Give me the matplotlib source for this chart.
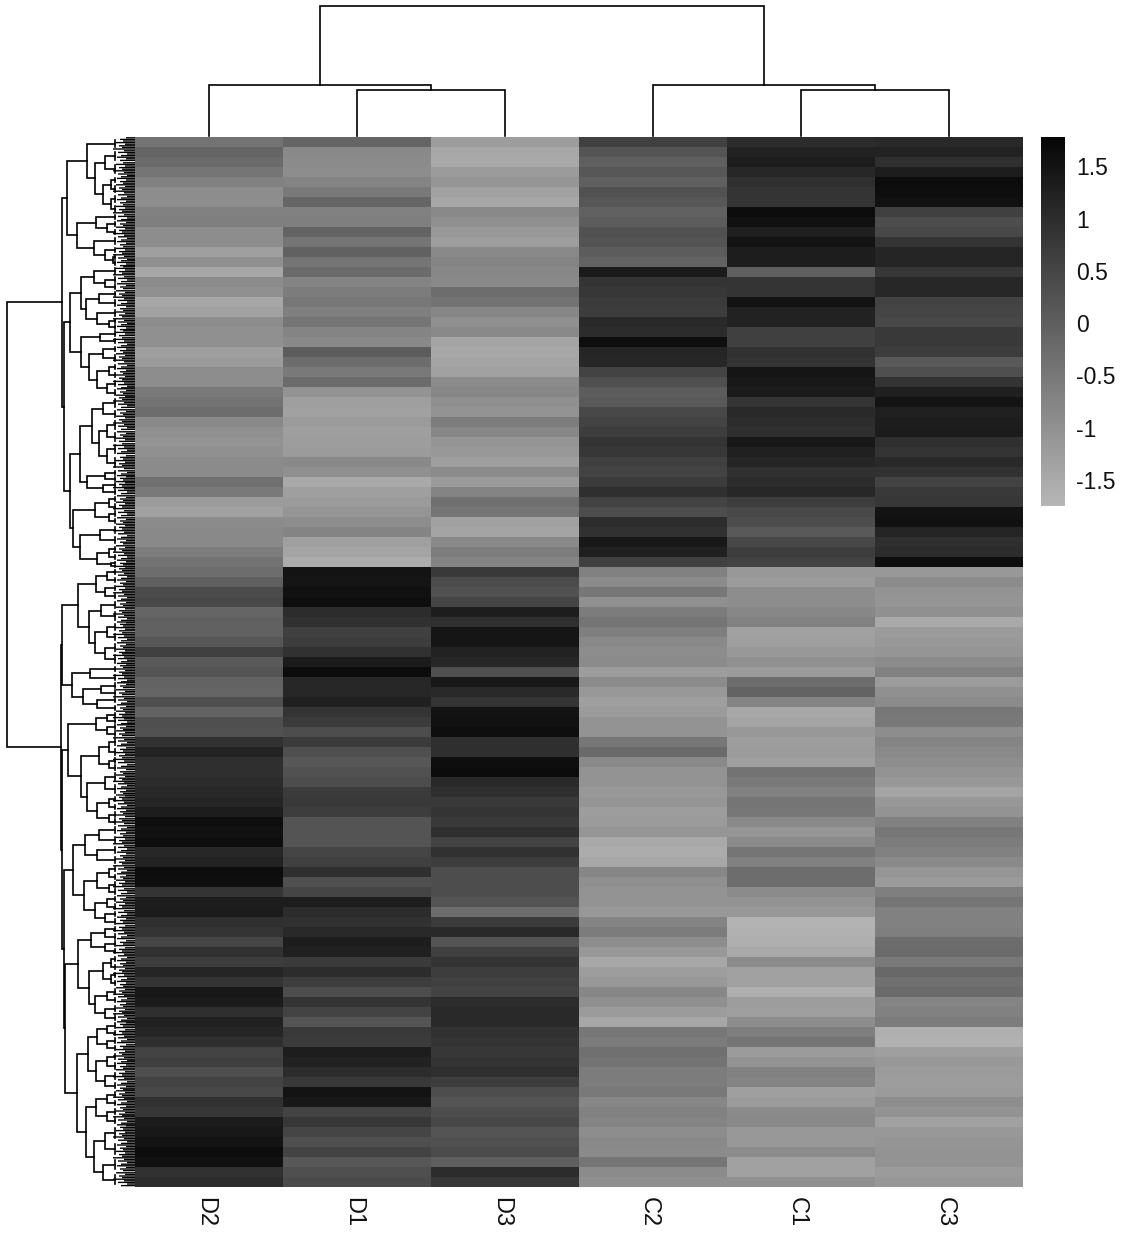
"""Clustered gene heatmap, D/C samples, gray palette, with row and column dendrograms."""
import numpy as np
import matplotlib
matplotlib.use("Agg")
import matplotlib.pyplot as plt
from matplotlib.colors import LinearSegmentedColormap

plt.rcParams["font.family"] = ["Liberation Sans", "DejaVu Sans"]

SAMPLES = ["D2", "D1", "D3", "C2", "C1", "C3"]
D2 = [-0.4, -0.15, -0.25, -0.45, -0.7, -0.95, -0.95, -0.7, -0.65, -0.95, -0.95, -1.3, -1.0, -1.45, -0.9, -1.0, -1.45, -1.35, -0.95, -1.0, -1.0, -1.3, -1.2, -0.95, -0.95, -0.55,
      -0.4, -0.3, -0.85, -1.0, -1.05, -1.0, -0.9, -0.9, -0.35, -0.55, -1.2, -1.35, -0.9, -0.85, -0.85, -0.6, -0.4, -0.3, 0.0, 0.4, 0.45, -0.15, -0.05, -0.05, 0.15, 0.6,
      0.1, 0.2, -0.1, -0.15, 0.3, -0.1, 0.3, 0.25, 0.9, 1.2, 0.95, 0.95, 1.0, 1.05, 1.15, 1.3, 1.6, 1.55, 1.6, 1.1, 1.2, 1.65, 1.6, 0.85, 1.3, 1.35,
      0.95, 0.85, 0.5, 0.9, 0.65, 1.15, 0.85, 1.4, 1.35, 0.95, 1.25, 1.15, 0.95, 0.55, 0.6, 0.3, 0.55, 0.45, 0.9, 0.8, 1.35, 1.4, 1.5, 1.65, 1.55, 0.9, 1.0]
D1 = [-0.15, -0.85, -0.9, -0.95, -0.75, -0.55, -0.15, -0.7, -0.65, -0.1, -0.45, -0.05, -0.45, -0.25, -0.75, -0.6, -0.5, -0.65, -0.45, -0.75, -0.85, 0.05, -0.3, -0.55, -0.25, -1.05,
      -1.3, -1.35, -1.2, -1.3, -1.25, -1.2, -0.85, -1.0, -1.5, -1.3, -1.2, -1.1, -0.95, -0.75, -1.3, -1.4, -1.55, 1.5, 1.45, 1.55, 1.6, 1.0, 0.9, 0.6, 0.65, 0.9,
      1.35, 1.65, 1.1, 1.1, 1.25, 0.85, 0.7, 0.35, 0.7, 0.3, 0.15, 0.25, 0.35, 0.7, 0.75, 0.65, 0.2, 0.2, 0.2, 0.5, 0.6, 0.95, 0.3, 0.5, 1.3, 1.0,
      0.9, 1.05, 1.3, 1.25, 0.7, 1.0, 0.65, 0.35, 0.85, 0.55, 0.2, 0.75, 0.7, 1.3, 1.2, 1.0, 0.75, 1.5, 1.4, 0.55, 0.8, 0.5, 0.3, 0.55, 0.15, 0.3, 0.4]
D3 = [-1.25, -1.45, -1.5, -1.2, -1.1, -1.35, -1.45, -0.85, -1.0, -1.15, -1.25, -0.85, -0.75, -0.8, -0.85, -0.3, -0.4, -0.8, -1.0, -0.85, -1.4, -1.45, -1.4, -1.35, -0.9, -0.8,
      -1.0, -1.05, -0.6, -0.8, -1.1, -1.15, -1.3, -0.9, -1.2, -0.75, -0.35, -0.45, -1.35, -1.4, -0.85, -0.6, -0.75, 0.75, 0.4, 0.25, 0.5, 1.3, 0.95, 1.45, 1.45, 1.2,
      1.1, 0.3, 1.4, 1.05, 0.85, 1.5, 1.55, 1.6, 0.95, 0.95, 1.6, 1.65, 1.05, 0.95, 0.75, 0.85, 0.75, 0.95, 0.55, 0.9, 0.65, 0.35, 0.35, 0.35, 0.2, -0.3,
      0.7, 1.05, 0.2, 0.6, 0.85, 0.65, 0.6, 0.55, 1.0, 1.05, 1.05, 0.9, 0.85, 0.8, 0.85, 0.95, 0.65, 0.35, 0.2, 0.35, 0.45, 0.2, 0.25, 0.4, 0.0, 1.0, 0.8]
C2 = [0.6, 0.2, 0.0, 0.15, 0.0, 0.25, 0.15, -0.05, 0.05, 0.25, 0.2, 0.05, -0.1, 1.35, 0.85, 0.8, 0.7, 0.65, 1.05, 1.0, 1.6, 1.15, 1.1, 0.55, 0.3, 0.05,
      0.1, 0.45, 0.55, 0.65, 0.85, 0.8, 0.6, 0.55, 0.7, 0.95, 0.55, 0.35, 1.0, 0.9, 1.4, 1.25, 0.6, -0.7, -0.9, -0.5, -1.0, -0.6, -0.45, -0.65, -0.85, -0.95,
      -0.9, -1.25, -0.9, -1.15, -1.3, -1.2, -1.05, -1.05, -0.5, -0.25, -0.85, -1.05, -1.05, -1.15, -1.1, -1.25, -1.2, -1.1, -1.5, -1.55, -1.45, -0.8, -1.0, -1.05, -1.05, -1.15,
      -0.75, -0.6, -0.95, -1.15, -1.45, -1.25, -1.15, -0.8, -1.0, -1.2, -1.45, -0.5, -0.6, -0.35, -0.4, -0.6, -0.6, -0.55, -0.8, -0.7, -0.75, -0.95, -0.85, -0.9, -0.45, -0.9, -1.0]
C1 = [1.0, 1.2, 1.3, 1.1, 0.95, 0.85, 0.85, 1.65, 1.55, 1.25, 1.5, 1.3, 1.3, 0.0, 0.85, 0.85, 1.5, 1.2, 1.2, 0.6, 0.6, 0.9, 0.85, 1.45, 1.4, 1.35,
      0.85, 1.05, 1.0, 0.95, 1.4, 1.25, 1.15, 0.9, 1.0, 1.1, 0.65, 0.45, 0.35, 0.1, 0.45, 0.65, 0.55, -1.15, -1.2, -0.95, -0.95, -0.8, -0.7, -1.35, -1.3, -1.15,
      -1.0, -1.2, -0.3, -0.1, -0.75, -1.45, -1.4, -1.15, -1.25, -1.2, -1.3, -0.4, -0.55, -0.7, -0.45, -0.5, -0.85, -1.1, -0.9, -0.45, -0.7, -0.3, -0.3, -0.9, -1.05, -1.15,
      -1.7, -1.65, -1.6, -1.5, -0.9, -1.35, -1.35, -1.6, -1.25, -1.3, -0.95, -0.65, -0.45, -1.2, -1.05, -0.7, -0.75, -1.3, -1.2, -0.9, -0.85, -1.15, -1.15, -0.9, -1.35, -1.35, -1.0]
C3 = [1.05, 1.2, 0.95, 1.3, 1.65, 1.6, 1.55, 0.6, 0.35, 0.45, 0.85, 1.15, 1.15, 0.8, 1.1, 1.1, 0.55, 0.5, 0.45, 0.75, 0.75, 0.65, 0.1, 0.3, 0.85, 1.25,
      1.5, 1.25, 1.3, 1.35, 0.95, 0.85, 1.05, 0.9, 0.55, 0.75, 0.8, 1.5, 1.55, 1.15, 0.95, 1.0, 1.6, -1.15, -0.9, -1.05, -1.1, -1.0, -1.5, -1.2, -1.15, -1.1,
      -0.9, -0.7, -1.2, -1.0, -0.9, -0.5, -0.55, -0.95, -0.75, -0.85, -0.95, -1.05, -1.15, -1.4, -1.15, -1.05, -0.7, -0.5, -0.6, -0.7, -0.85, -1.1, -1.2, -0.65, -0.45, -0.7,
      -0.7, -0.65, -0.3, -0.25, -0.55, -0.2, -0.35, -0.25, -0.75, -0.7, -0.6, -1.6, -1.65, -1.3, -1.15, -1.2, -1.25, -1.2, -0.95, -1.05, -1.35, -1.15, -1.1, -1.05, -1.05, -1.2, -1.15]

CBAR_TICKS = [-1.5, -1, -0.5, 0, 0.5, 1, 1.5]
CBAR_LABELS = ["-1.5", "-1", "-0.5", "0", "0.5", "1", "1.5"]

# column tree: (height, left, right), ints index the samples
COL_TREE = (130, (51, 0, (46, 1, 2)), (51, 3, (46, 4, 5)))

# row tree: (depth from heatmap edge, upper, lower), ints are leaf bundle sizes
S1 = (48, 13, (40, (30, 12, 14), (32, (24, 8, 10), (24, 10, 10))))
A1B = (58, (39, 6, (28, 8, 8)), (41, 10, (30, 8, (22, 6, 6))))
A2A = (54, (41, 10, (30, 7, 7)), (49, (36, 8, 10), (38, 10, (26, 6, 6))))
A2B = (54, (35, 7, 8), (46, (32, 8, 10), (38, (26, 8, 8), (28, 9, 9))))
A3A = (55, (43, (32, 12, 10), (36, (28, 12, 12), (28, 12, 15))), (48, (30, 6, 6), (32, 6, 7)))
A3B = (62, (40, (26, 8, 7), (26, 7, 8)), (55, (35, 10, 10), (38, (26, 8, 8), (24, 3, 4))))
CL_A = (73, (68, S1, A1B), (71, (65, A2A, A2B), (65, A3A, A3B)))

B1 = (57, (39, (28, 8, 8), (30, 8, 8)), (46, (34, 10, 12), (40, (28, 10, 10), (30, 11, 12))))
B2 = (63, (45, 8, 9), (52, (34, 7, 7), (38, 8, 8)))
B3 = (67, (39, (28, 6, 6), (28, 6, 7)),
      (54, (36, (26, 10, 10), (26, 7, 7)), (48, (30, 12, 12), (38, (26, 8, 8), (26, 7, 7)))))
B4 = (62, (50, (36, 10, 10), (38, 10, 10)), (51, (38, (26, 8, 8), (26, 7, 7)), (40, (28, 8, 7), (30, 8, 7))))
B5 = (57, (44, (30, 8, 7), (30, 7, 8)), (46, (32, (24, 8, 8), (24, 8, 8)), (40, (28, 9, 8), (30, 9, 9))))
B6 = (58, (47, (38, (28, 7, 8), (28, 7, 8)), (39, (28, 9, 10), (30, 10, 9))),
      (49, (39, (28, 9, 8), (28, 9, 9)), (41, (30, 16, 16), (32, 15, 15))))
CL_B = (74, (73.5, B1, B2), (73, B3, (71, B4, (70, B5, B6))))
ROW_TREE = (128, CL_A, CL_B)

TIP_START = [126, 120, 123, 116, 125, 119, 122, 113, 124, 118, 127, 121, 117]

HM_X0, HM_X1, HM_Y0, HM_Y1 = 135, 1023, 137, 1187
W, H = 1132, 1244
COL_LW = 1.2
ROW_LW = 1.2
LEAF_DEPTH = 20
LEAF_STEP = 1.6


def draw_col(ax, node, centers):
    if isinstance(node, int):
        return centers[node], HM_Y0 - 1
    h, a, b = node
    xa, ya = draw_col(ax, a, centers)
    xb, yb = draw_col(ax, b, centers)
    y = HM_Y0 - 1 - h
    ax.plot([xa, xa, xb, xb], [ya, y, y, yb], color="black", lw=COL_LW, solid_joinstyle="miter")
    return (xa + xb) / 2, y


class RowDraw:
    def __init__(self, ax):
        self.ax = ax
        self.y = HM_Y0
        self.tip = 0

    def leaf(self, n):
        y0, y1 = self.y, self.y + n
        self.y = y1
        sx = HM_X0 - LEAF_DEPTH
        ys = np.arange(y0 + LEAF_STEP / 2, y1, LEAF_STEP)
        for yy in ys:
            self.ax.plot([TIP_START[self.tip % len(TIP_START)], HM_X0], [yy, yy], color="black", lw=1.0,
                         solid_capstyle="butt", snap=False)
            self.tip += 1
        mid = (y0 + y1) / 2
        self.ax.plot([sx, sx], [y0 + n * 0.2, y1 - n * 0.2], color="black", lw=ROW_LW)
        return sx, mid

    def node(self, nd):
        if isinstance(nd, int):
            return self.leaf(nd)
        h, a, b = nd
        xa, ya = self.node(a)
        xb, yb = self.node(b)
        x = HM_X0 - h
        self.ax.plot([xa, x, x, xb], [ya, ya, yb, yb], color="black", lw=ROW_LW, solid_joinstyle="miter")
        return x, (ya + yb) / 2


def main():
    fig = plt.figure(figsize=(W / 100, H / 100), dpi=100)
    ax = fig.add_axes([0, 0, 1, 1])
    cmap = LinearSegmentedColormap.from_list("pal", ["#b6b6b6", "#060606"])

    mat = np.array([D2, D1, D3, C2, C1, C3]).T
    im = ax.imshow(mat, cmap=cmap, vmin=-1.75, vmax=1.78, aspect="auto",
                   interpolation="nearest", extent=[HM_X0, HM_X1, HM_Y1, HM_Y0])

    cw = (HM_X1 - HM_X0) / len(SAMPLES)
    centers = [HM_X0 + cw * (i + 0.5) for i in range(len(SAMPLES))]
    draw_col(ax, COL_TREE, centers)
    RowDraw(ax).node(ROW_TREE)

    for x, s in zip(centers, SAMPLES):
        ax.text(x - 4, 1197, s, rotation=270, ha="center", va="top", fontsize=17, color="#111111")

    ax.set_xlim(0, W)
    ax.set_ylim(H, 0)
    ax.axis("off")

    cax = fig.add_axes([1041 / W, 1 - 506 / H, 24 / W, 369 / H])
    cb = fig.colorbar(im, cax=cax)
    cb.outline.set_visible(False)
    cb.set_ticks(CBAR_TICKS, labels=CBAR_LABELS)
    cb.ax.tick_params(length=0, pad=8, labelsize=16.5, labelcolor="#111111")

    fig.savefig("out.png", dpi=100)


if __name__ == "__main__":
    main()
